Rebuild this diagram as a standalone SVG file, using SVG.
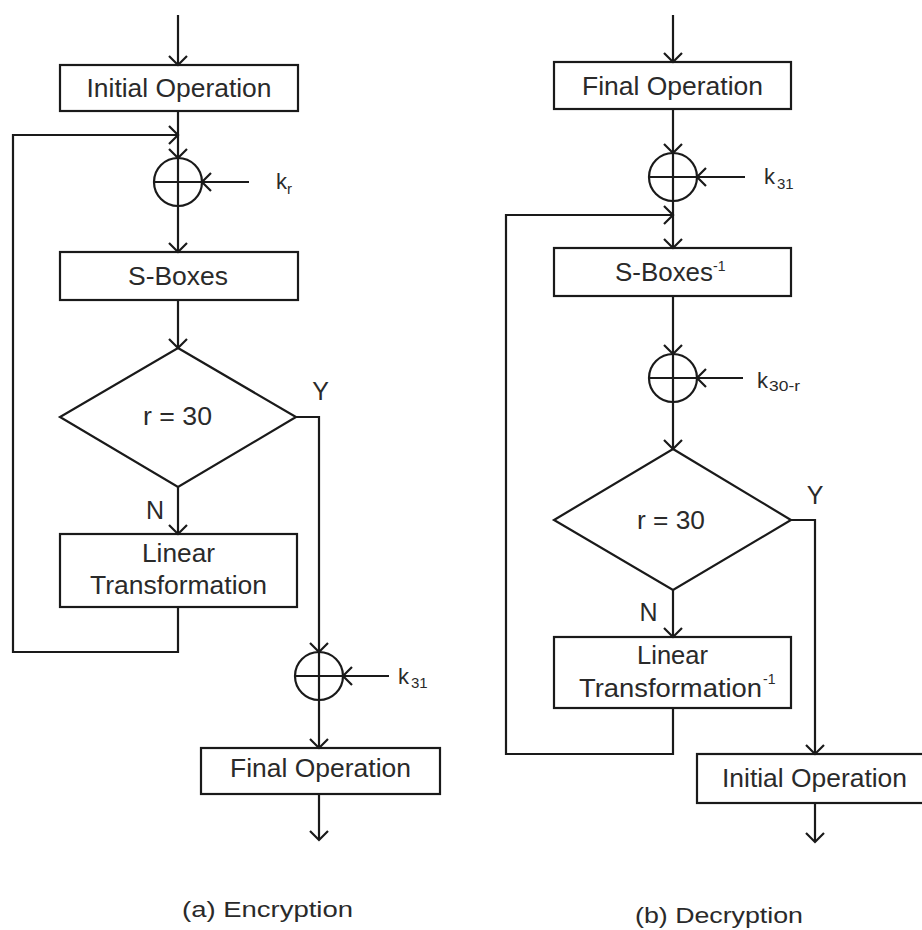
<svg xmlns="http://www.w3.org/2000/svg" width="922" height="930" viewBox="0 0 922 930">
<style>
  .box { fill: #ffffff; stroke: #1a1a1a; stroke-width: 2.2; }
  .ln { fill: none; stroke: #1a1a1a; stroke-width: 2.2; }
  .edge { fill: none; stroke: #1a1a1a; stroke-width: 2.2; marker-end: url(#arr); }
  text { font-family: "Liberation Sans", Arial, sans-serif; fill: #2a2a2a; }
  .t { font-size: 25px; }
  .c { text-anchor: middle; }
  .k { font-size: 22px; }
  .sub { font-size: 15px; }
  .sup { font-size: 14px; }
  .cap { font-size: 22px; }
</style>
<defs>
  <marker id="arr" markerUnits="userSpaceOnUse" markerWidth="24" markerHeight="24" viewBox="-12 -12 24 24" refX="0" refY="0" orient="auto">
    <path d="M -9 -9 L 0 0 L -9 9" fill="none" stroke="#1a1a1a" stroke-width="2.2"/>
  </marker>
</defs>

<!-- ===== (a) Encryption ===== -->
<g id="enc-initial">
  <rect class="box" x="60" y="65" width="238" height="46"/>
  <text class="t c" x="179" y="97" textLength="185" lengthAdjust="spacingAndGlyphs">Initial Operation</text>
</g>
<g id="enc-xor1">
  <circle class="ln" cx="178" cy="182" r="24"/>
  <line class="ln" x1="154" y1="182" x2="202" y2="182"/>
  <line class="ln" x1="178" y1="158" x2="178" y2="206"/>
</g>
<g id="enc-kr">
  <text class="k" x="276" y="189">k</text>
  <text class="sub" x="287" y="194">r</text>
</g>
<g id="enc-sboxes">
  <rect class="box" x="60" y="252" width="238" height="48"/>
  <text class="t c" x="178" y="285" textLength="100" lengthAdjust="spacingAndGlyphs">S-Boxes</text>
</g>
<g id="enc-decision">
  <polygon class="box" points="178,348 296,417 178,487 60,417"/>
  <text class="t c" x="177.5" y="425" textLength="69" lengthAdjust="spacingAndGlyphs">r = 30</text>
</g>
<g id="enc-lt">
  <rect class="box" x="60" y="534" width="237" height="73"/>
  <text class="t c" x="178.5" y="562" textLength="73" lengthAdjust="spacingAndGlyphs">Linear</text>
  <text class="t c" x="178.5" y="594" textLength="177" lengthAdjust="spacingAndGlyphs">Transformation</text>
</g>
<g id="enc-xor2">
  <circle class="ln" cx="319" cy="676" r="24"/>
  <line class="ln" x1="295" y1="676" x2="343" y2="676"/>
  <line class="ln" x1="319" y1="652" x2="319" y2="700"/>
</g>
<g id="enc-k31">
  <text class="k" x="398" y="684">k</text>
  <text class="sub" x="411" y="688">31</text>
</g>
<g id="enc-final">
  <rect class="box" x="201" y="748" width="239" height="46"/>
  <text class="t c" x="320.5" y="777" textLength="181" lengthAdjust="spacingAndGlyphs">Final Operation</text>
</g>

<!-- ===== (b) Decryption ===== -->
<g id="dec-final">
  <rect class="box" x="554" y="62" width="237" height="47"/>
  <text class="t c" x="672.5" y="95" textLength="181" lengthAdjust="spacingAndGlyphs">Final Operation</text>
</g>
<g id="dec-xor1">
  <circle class="ln" cx="673" cy="177" r="24"/>
  <line class="ln" x1="649" y1="177" x2="697" y2="177"/>
  <line class="ln" x1="673" y1="153" x2="673" y2="201"/>
</g>
<g id="dec-k31">
  <text class="k" x="764" y="184">k</text>
  <text class="sub" x="777" y="189">31</text>
</g>
<g id="dec-sboxes">
  <rect class="box" x="554" y="248" width="237" height="48"/>
  <text class="t" x="615" y="281" textLength="98" lengthAdjust="spacingAndGlyphs">S-Boxes</text>
  <text class="sup" x="713" y="271">-1</text>
</g>
<g id="dec-xor2">
  <circle class="ln" cx="673" cy="378" r="24"/>
  <line class="ln" x1="649" y1="378" x2="697" y2="378"/>
  <line class="ln" x1="673" y1="354" x2="673" y2="402"/>
</g>
<g id="dec-k30r">
  <text class="k" x="757" y="388">k</text>
  <text class="sub" x="769" y="391" textLength="31" lengthAdjust="spacingAndGlyphs">30-r</text>
</g>
<g id="dec-decision">
  <polygon class="box" points="673,449 791,520 673,590 554,520"/>
  <text class="t c" x="671" y="529" textLength="68" lengthAdjust="spacingAndGlyphs">r = 30</text>
</g>
<g id="dec-lt">
  <rect class="box" x="554" y="637" width="237" height="71"/>
  <text class="t c" x="672.5" y="664" textLength="71" lengthAdjust="spacingAndGlyphs">Linear</text>
  <text class="t" x="579" y="697" textLength="183" lengthAdjust="spacingAndGlyphs">Transformation</text>
  <text class="sup" x="763" y="684">-1</text>
</g>
<g id="dec-initial">
  <rect class="box" x="697" y="754" width="236" height="49"/>
  <text class="t c" x="814.5" y="787" textLength="185" lengthAdjust="spacingAndGlyphs">Initial Operation</text>
</g>

<!-- ===== Connectors ===== -->
<g id="connectors">
  <!-- encryption -->
  <line class="edge" x1="178" y1="15" x2="178" y2="65"/>
  <line class="edge" x1="178" y1="111" x2="178" y2="158"/>
  <polyline class="edge" points="178,607 178,652 13,652 13,135 178,135"/>
  <line class="edge" x1="249" y1="182" x2="202" y2="182"/>
  <line class="edge" x1="178" y1="206" x2="178" y2="252"/>
  <line class="edge" x1="178" y1="300" x2="178" y2="348"/>
  <line class="edge" x1="178" y1="487" x2="178" y2="534"/>
  <polyline class="edge" points="296,417 319,417 319,652"/>
  <line class="edge" x1="389" y1="676" x2="343" y2="676"/>
  <line class="edge" x1="319" y1="700" x2="319" y2="748"/>
  <line class="edge" x1="319" y1="794" x2="319" y2="840"/>
  <!-- decryption -->
  <line class="edge" x1="673" y1="15" x2="673" y2="62"/>
  <line class="edge" x1="673" y1="109" x2="673" y2="153"/>
  <line class="edge" x1="745" y1="177" x2="697" y2="177"/>
  <line class="edge" x1="673" y1="201" x2="673" y2="248"/>
  <polyline class="edge" points="673,708 673,754 506,754 506,215 673,215"/>
  <line class="edge" x1="673" y1="296" x2="673" y2="354"/>
  <line class="edge" x1="743" y1="378" x2="697" y2="378"/>
  <line class="edge" x1="673" y1="402" x2="673" y2="449"/>
  <line class="edge" x1="673" y1="590" x2="673" y2="637"/>
  <polyline class="edge" points="791,520 815,520 815,754"/>
  <line class="edge" x1="815" y1="803" x2="815" y2="842"/>
</g>

<!-- labels -->
<g id="labels">
  <text class="t c" x="320.5" y="400">Y</text>
  <text class="t c" x="155" y="519">N</text>
  <text class="t c" x="815" y="504">Y</text>
  <text class="t c" x="648.5" y="621">N</text>
  <text class="cap" x="182" y="917" textLength="171" lengthAdjust="spacingAndGlyphs">(a) Encryption</text>
  <text class="cap" x="635" y="923" textLength="168" lengthAdjust="spacingAndGlyphs">(b) Decryption</text>
</g>
</svg>
